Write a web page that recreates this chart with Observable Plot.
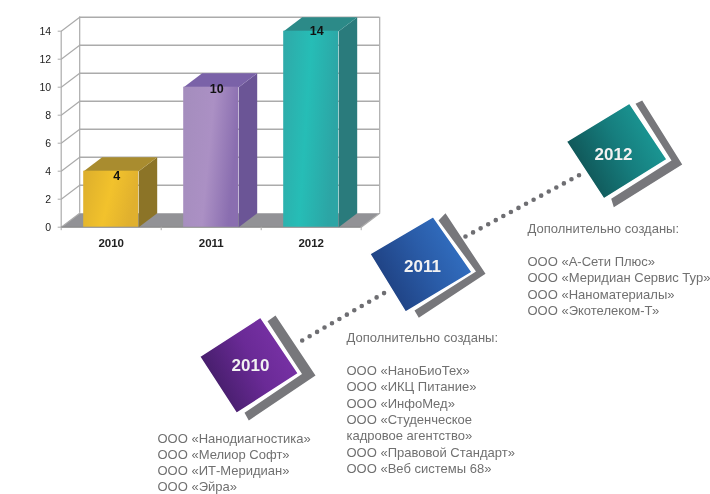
<!DOCTYPE html>
<html><head><meta charset="utf-8">
<script src="https://cdn.jsdelivr.net/npm/d3@7"></script>
<script src="https://cdn.jsdelivr.net/npm/@observablehq/plot@0.6"></script>
<style>
html,body{margin:0;padding:0;background:#fff;}
#wrap{position:relative;width:710px;height:494px;overflow:hidden;filter:blur(0.45px);}
#wrap svg{position:absolute;left:0;top:0;background:none;}
</style></head>
<body><div id="wrap"></div>
<script>
const years = [2010, 2011, 2012];
const counts = [4, 10, 14];
const labelHeights = [3.65, 9.9, 14];
const yTicks = [0, 2, 4, 6, 8, 10, 12, 14];
const companies2010 = ["ООО «Нанодиагностика»", "ООО «Мелиор Софт»", "ООО «ИТ-Меридиан»", "ООО «Эйра»"];
const companies2011 = ["Дополнительно созданы:", "", "ООО «НаноБиоТех»", "ООО «ИКЦ Питание»", "ООО «ИнфоМед»", "ООО «Студенческое", "кадровое агентство»", "ООО «Правовой Стандарт»", "ООО «Веб системы 68»"];
const companies2012 = ["Дополнительно созданы:", "", "ООО «А-Сети Плюс»", "ООО «Меридиан Сервис Тур»", "ООО «Наноматериалы»", "ООО «Экотелеком-Т»"];

const barHalf = 0.275, depthX = 0.185, depthY = 1, x0 = 2009.5, x1 = 2012.5;
const bars = years.map((year, i) => ({year, value: counts[i], labelAt: labelHeights[i]}));
const face = {
  2010: {front: "url(#f2010)", side: "#8c7427", top: "#a98c2f"},
  2011: {front: "url(#f2011)", side: "#6b5596", top: "#7a62a8"},
  2012: {front: "url(#f2012)", side: "#2a7b7c", top: "#2c8a88"}
};
const poly = (id, pts) => pts.map(([x, y]) => ({id, x, y}));
const sidePts = bars.flatMap(b => poly(b.year, [
  [b.year + barHalf, 0], [b.year + barHalf + depthX, depthY],
  [b.year + barHalf + depthX, b.value + depthY], [b.year + barHalf, b.value]]));
const topPts = bars.flatMap(b => poly(b.year, [
  [b.year - barHalf, b.value], [b.year + barHalf, b.value],
  [b.year + barHalf + depthX, b.value + depthY], [b.year - barHalf + depthX, b.value + depthY]]));
const floorPts = poly("floor", [[x0, 0], [x1, 0], [x1 + depthX, depthY], [x0 + depthX, depthY]]);

function gradient(id, stops, y1 = 0, y2 = 0.25) {
  return `<linearGradient id="${id}" x1="0" y1="${y1}" x2="1" y2="${y2}">` +
    stops.map(([o, c]) => `<stop offset="${o}" stop-color="${c}"/>`).join("") + `</linearGradient>`;
}
const defs = () => {
  const g = document.createElementNS("http://www.w3.org/2000/svg", "g");
  g.innerHTML = "<defs>" +
    gradient("f2010", [[0, "#dcae2c"], [0.55, "#f2c22c"], [1, "#e0b02e"]]) +
    gradient("f2011", [[0, "#a48dbd"], [0.55, "#ab90c4"], [1, "#8a6eb0"]]) +
    gradient("f2012", [[0, "#2fa9a8"], [0.5, "#26bdb6"], [1, "#2ca5a5"]]) +
    gradient("d2010", [[0, "#3b1a5e"], [0.55, "#6a2a96"], [1, "#7c34aa"]], 0.75, 0.25) +
    gradient("d2011", [[0, "#1c3a78"], [0.55, "#2a5ca8"], [1, "#3474c8"]], 0.75, 0.25) +
    gradient("d2012", [[0, "#0e4a4c"], [0.55, "#167e7e"], [1, "#1ca09c"]], 0.75, 0.25) +
    "</defs>";
  return g;
};

const gridColor = "#ababab";
const chart = Plot.plot({
  width: 710, height: 494,
  marginLeft: 60.7, marginRight: 349.3, marginTop: 30.7, marginBottom: 267.3,
  style: {fontFamily: "Liberation Sans, Arial, sans-serif", background: "none"},
  x: {type: "linear", domain: [x0, x1]},
  y: {type: "linear", domain: [0, 14]},
  marks: [
    defs,
    Plot.line(floorPts, {x: "x", y: "y", z: "id", fill: "#929296", stroke: "none", curve: "linear-closed"}),
    Plot.ruleY(yTicks.slice(1).map(v => v + depthY), {x1: x0 + depthX, x2: x1 + depthX, stroke: gridColor, strokeWidth: 1.4}),
    Plot.ruleX([x0 + depthX, x1 + depthX], {y1: depthY, y2: 15, stroke: gridColor, strokeWidth: 1.2}),
    ...yTicks.map(v => Plot.line([[x0, v], [x0 + depthX, v + depthY]], {stroke: gridColor, strokeWidth: 1.2})),
    Plot.line([[x1, 0], [x1 + depthX, depthY]], {stroke: gridColor, strokeWidth: 1.2}),
    Plot.ruleX([x0], {y1: 0, y2: 14, stroke: gridColor, strokeWidth: 1.2}),
    Plot.ruleY([0], {x1: x0, x2: x1, stroke: "#8a8a8a", strokeWidth: 1.2}),
    ...years.map(year => Plot.line(sidePts.filter(d => d.id === year), {x: "x", y: "y", fill: face[year].side, stroke: "none", curve: "linear-closed"})),
    ...years.map(year => Plot.line(topPts.filter(d => d.id === year), {x: "x", y: "y", fill: face[year].top, stroke: "none", curve: "linear-closed"})),
    ...bars.map(b => Plot.rect([b], {x1: d => d.year - barHalf, x2: d => d.year + barHalf, y1: 0, y2: "value", fill: face[b.year].front})),
    Plot.text(bars, {x: "year", y: "labelAt", text: d => String(d.value), dx: 5.5, fontWeight: "bold", fontSize: 12.5, fill: "#111"}),
    Plot.axisY({ticks: yTicks, tickSize: 3, tickPadding: 7, stroke: gridColor, label: null, fontSize: 10.5, fill: "#222", tickFormat: "d"}),
    Plot.ruleX([x0, x0 + 1, x0 + 2, x1], {y1: 0, y2: -0.25, stroke: gridColor}),
    Plot.axisX({ticks: years, tickSize: 0, tickPadding: 12, label: null, fontSize: 11.5, fontWeight: "bold", fill: "#222", tickFormat: "d"})
  ]
});

const squares = [
  {year: "2010", fill: "url(#d2010)", pts: [[260, 316.7], [298, 373], [236, 413], [199, 356]], grey: [[267, 320.7], [275, 315], [315, 375], [248.3, 420], [244, 412.3], [301.5, 373.5]], label: [250, 365]},
  {year: "2011", fill: "url(#d2011)", pts: [[432.7, 216], [471.7, 271.7], [405, 311.7], [369.3, 253.3]], grey: [[438, 220], [445, 212.7], [485, 273.3], [418.3, 317.3], [414, 310], [475.5, 271]], label: [422, 266]},
  {year: "2012", fill: "url(#d2012)", pts: [[629, 102.7], [666.7, 159], [603.3, 198.3], [565.7, 141]], grey: [[635, 103.3], [641.7, 100], [681.7, 164], [613.3, 206.7], [610.7, 198.3], [671, 160]], label: [613, 154]}
];
const dotted = {strokeDasharray: "0 8.6", strokeLinecap: "round", strokeWidth: 4.6, stroke: "#6e6e72"};
const listEntries = (list, x, y, step) => list
  .map((text, i) => ({text, x, y: y + i * step}))
  .filter(d => d.text);
const listRows = [
  ...listEntries(companies2010, 157, 438.3, 16.1),
  ...listEntries(companies2011, 346, 337.3, 16.4),
  ...listEntries(companies2012, 527, 228, 16.5)
];
const timeline = Plot.plot({
  width: 710, height: 494, margin: 0,
  style: {fontFamily: "Liberation Sans, Arial, sans-serif", background: "none"},
  x: {type: "linear", domain: [0, 710], range: [0, 710], axis: null},
  y: {type: "linear", domain: [0, 494], range: [0, 494], axis: null},
  marks: [
    defs,
    Plot.line([[301.7, 340], [388, 290]], dotted),
    Plot.line([[465, 236], [581.7, 173]], dotted),
    ...squares.map(s => Plot.line(s.grey, {fill: "#77777b", stroke: "none", curve: "linear-closed"})),
    ...squares.map(s => Plot.line(s.pts, {fill: s.fill, stroke: "#fff", strokeWidth: 1.5, curve: "linear-closed"})),
    Plot.text(squares, {x: d => d.label[0], y: d => d.label[1], text: "year", fill: "#f2f2f2", fontWeight: "bold", fontSize: 17}),
    Plot.text(listRows, {x: "x", y: "y", text: "text", fill: "#707070", fontSize: 13, textAnchor: "start", lineAnchor: "middle"})
  ]
});
document.getElementById("wrap").append(chart, timeline);
</script></body></html>
